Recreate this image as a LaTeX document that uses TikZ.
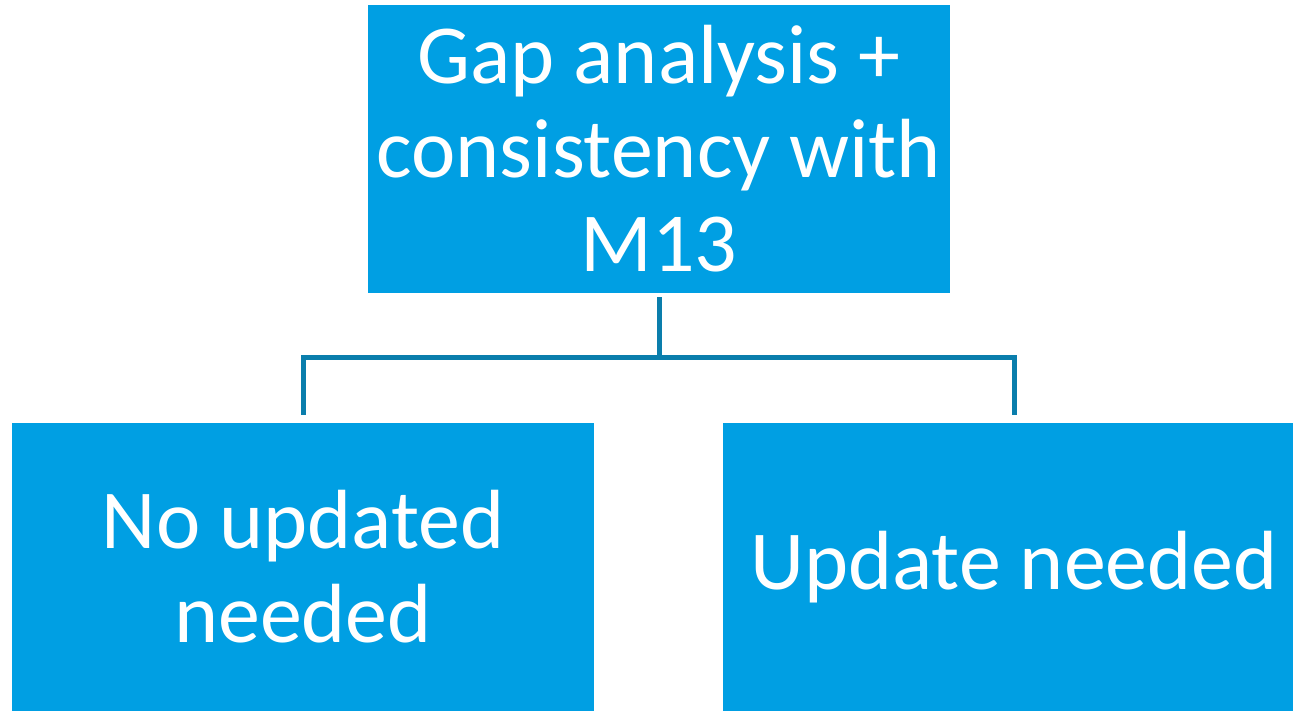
\documentclass[tikz,border=0pt]{standalone}
\usepackage{fontspec}
\setmainfont{Carlito}
\usetikzlibrary{calc}
\definecolor{boxblue}{HTML}{009FE3}
\definecolor{linkblue}{HTML}{0A7EAC}
\tikzset{every box/.style={fill=boxblue,text=white,align=center,inner sep=0pt,
    minimum width=11.64cm,minimum height=5.76cm,
    font=\fontsize{47.8pt}{53.5pt}\selectfont},
  link/.style={linkblue,line width=2.85pt}}

\begin{document}
\begin{tikzpicture}[x=0.02cm,y=-0.02cm]
\useasboundingbox (0,0) rectangle (1293,710);
\node[every box] (gap) at (659,149) {Gap analysis +\\consistency with\\M13};
\node[every box] (noupd) at (303,567) {No updated\\needed};
\node[every box] (upd) at (1014,567) {Update needed};
\coordinate (split) at ($(gap.south)+(0,64)$);
%\draw[link] (gap.south) -- (split) -| (noupd.north);
\draw[link,shorten <=2.3pt] (gap.south) -- (split);
\draw[link,shorten >=4.5pt] (split) -| (noupd.north);
\draw[link,shorten >=4.5pt] (split) -| (upd.north);
\end{tikzpicture}
\end{document}
